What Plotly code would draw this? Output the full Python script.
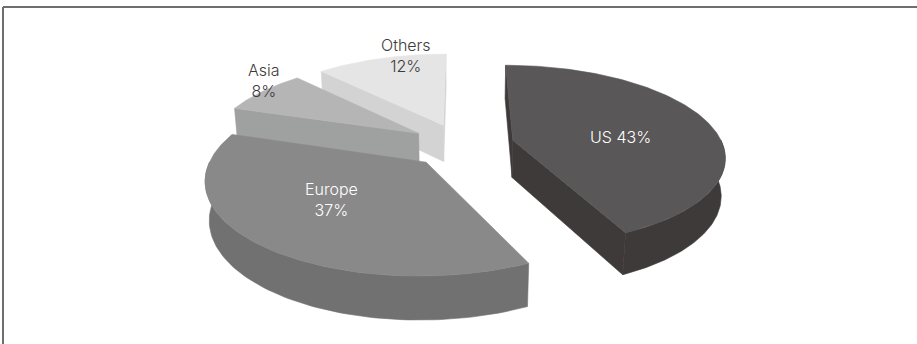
import numpy as np
import plotly.graph_objects as go

# ---- data -------------------------------------------------------------
regions = ["US", "Europe", "Asia", "Others"]
shares = [43, 37, 8, 12]

# ---- styling ----------------------------------------------------------
top_colors = ["#595757", "#898989", "#b5b5b6", "#e5e5e5"]
side_colors = ["#3e3a39", "#727171", "#9fa0a0", "#d3d3d4"]
label_colors = ["#ffffff", "#ffffff", "#3e3a39", "#3e3a39"]
label_breaks = [" ", "<br>", "<br>", "<br>"]
label_pos = [(620, 137), (331, 199), (264, 80), (406, 55)]

W, H = 917, 344
CX, CY = 462, 145          # pie centre in pixels
RPX = 210                  # radius in pixels at the centre depth
TILT = np.radians(25)      # viewing elevation
DIST = 5.5                 # camera distance (in radii) for perspective
THICK = 0.20               # pie thickness (in radii)
EXPLODE = 0.25             # slice pull-out (in radii)
START = 90.0               # first slice starts at 12 o'clock, clockwise

cam = np.array([0.0, -DIST * np.cos(TILT), DIST * np.sin(TILT)])


def project(u, v, z):
    u, v, z = np.asarray(u, float), np.asarray(v, float), np.asarray(z, float)
    depth = v * np.cos(TILT) - z * np.sin(TILT)
    s = 1.0 / (1.0 + depth / DIST)
    x = CX + RPX * u * s
    y = CY - RPX * (v * np.sin(TILT) + z * np.cos(TILT)) * s
    return x, y


def poly(fig, x, y, color):
    fig.add_trace(go.Scatter(
        x=np.append(x, x[0]), y=np.append(y, y[0]),
        mode="lines", fill="toself", fillcolor=color,
        line=dict(color=color, width=0.6),
        hoverinfo="skip", showlegend=False,
    ))


# slice angles (degrees, mathematical orientation)
total = float(sum(shares))
slices = []
acc = 0.0
for i, sh in enumerate(shares):
    hi = START - 360.0 * acc / total
    lo = hi - 360.0 * sh / total
    acc += sh
    b = np.radians((hi + lo) / 2)
    ox, oy = EXPLODE * np.cos(b), EXPLODE * np.sin(b)
    slices.append(dict(i=i, hi=hi, lo=lo, ox=ox, oy=oy, depth=np.sin(b)))

fig = go.Figure()

# paint from the back to the front
for sl in sorted(slices, key=lambda d: -d["depth"]):
    i, hi, lo, ox, oy = sl["i"], sl["hi"], sl["lo"], sl["ox"], sl["oy"]

    # outer curved wall (front half only)
    cuts = [lo] + [k * 180.0 for k in range(int(np.floor(lo / 180)) - 1,
                                            int(np.ceil(hi / 180)) + 2)
                   if lo < k * 180.0 < hi] + [hi]
    for a0, a1 in zip(cuts[:-1], cuts[1:]):
        if np.sin(np.radians((a0 + a1) / 2)) >= 0:
            continue
        th = np.radians(np.linspace(a0, a1, 80))
        u = ox + np.cos(th)
        v = oy + np.sin(th)
        xt, yt = project(u, v, np.zeros_like(u))
        xb, yb = project(u, v, np.full_like(u, -THICK))
        poly(fig, np.concatenate([xt, xb[::-1]]),
             np.concatenate([yt, yb[::-1]]), side_colors[i])

    # flat radial walls, when facing the camera
    for ang, sign in ((hi, 1.0), (lo, -1.0)):
        t = np.radians(ang)
        n = sign * np.array([-np.sin(t), np.cos(t), 0.0])
        apex = np.array([ox, oy, 0.0])
        if np.dot(cam - apex, n) <= 0:
            continue
        u = [ox, ox + np.cos(t), ox + np.cos(t), ox]
        v = [oy, oy + np.sin(t), oy + np.sin(t), oy]
        z = [0, 0, -THICK, -THICK]
        x, y = project(u, v, z)
        poly(fig, x, y, side_colors[i])

    # top face
    th = np.radians(np.linspace(hi, lo, 160))
    u = np.concatenate([[ox], ox + np.cos(th)])
    v = np.concatenate([[oy], oy + np.sin(th)])
    x, y = project(u, v, np.zeros_like(u))
    poly(fig, x, y, top_colors[i])

# labels
for i, name in enumerate(regions):
    px, py = label_pos[i]
    fig.add_annotation(
        x=px, y=py, xref="x", yref="y",
        text=f"{name}{label_breaks[i]}{shares[i]}%",
        showarrow=False, xanchor="center", yanchor="middle", align="center",
        font=dict(family="Inter, Lato, 'Liberation Sans', sans-serif",
                  size=16, color=label_colors[i], weight=300),
    )

# frame lines along the top and left edges
fig.add_shape(type="line", xref="x", yref="y", x0=3, y0=7, x1=W, y1=7,
              line=dict(color="#6e6e6e", width=2))
fig.add_shape(type="line", xref="x", yref="y", x0=3, y0=7, x1=3, y1=H,
              line=dict(color="#6e6e6e", width=2))

fig.update_layout(
    width=W, height=H,
    margin=dict(l=0, r=0, t=0, b=0),
    paper_bgcolor="white", plot_bgcolor="white",
    xaxis=dict(range=[0, W], visible=False, fixedrange=True),
    yaxis=dict(range=[H, 0], visible=False, fixedrange=True),
    showlegend=False,
)

fig.write_html("out.html")
